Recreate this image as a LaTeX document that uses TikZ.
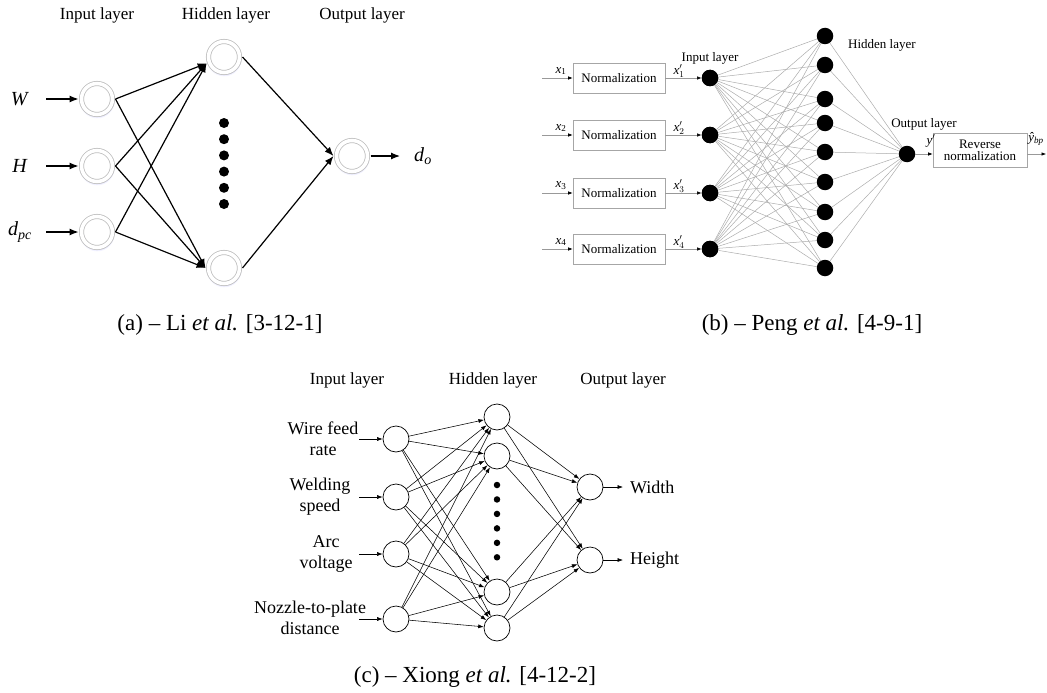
\documentclass[tikz,border=0pt]{standalone}
\usepackage{fontspec}
\setmainfont{Liberation Serif}
\usetikzlibrary{arrows.meta,shadows}
\begin{document}
\begin{tikzpicture}[x=1pt,y=-1pt,
  fs/.style={font=\fontsize{#1}{#1}\selectfont},
  lab/.style={fs=17, inner sep=0},
  capt/.style={fs=23, inner sep=0},
  aring/.style={circle, minimum size=31pt, inner sep=0, outer sep=3pt, fill=white,
    draw=gray!50, line width=0.8pt, double=white, double distance=3.5pt,
    circular drop shadow={shadow xshift=0pt, shadow yshift=-1.5pt, shadow scale=1.15, fill=blue!35, opacity=0.3}},
  adot/.style={circle, fill=black, minimum size=10pt, inner sep=0},
  arA/.style={line width=1.2pt, -{Latex[length=9pt,width=7pt]}},
  nbox/.style={draw=gray!70, line width=0.6pt, minimum width=92pt, minimum height=30pt, inner sep=0, fs=13},
  bnode/.style={circle, fill=black, minimum size=16.5pt, inner sep=0},
  bline/.style={gray!65, line width=0.5pt},
  arB/.style={gray!80, line width=0.6pt, -{Latex[length=4.5pt,width=3.5pt,black]}},
  blab/.style={fs=13, inner sep=0},
  cnode/.style={circle, draw, line width=0.7pt, minimum size=26pt, inner sep=0, fill=white},
  cdot/.style={circle, fill=black, minimum size=6.5pt, inner sep=0},
  arC/.style={line width=0.55pt, -{Latex[length=5.5pt,width=4pt]}},
  clab/.style={fs=18, inner sep=0, align=center}
]
\useasboundingbox (0,0) rectangle (1047,693);

% ================= panel (a) =================
\node[lab] (aL1) at (97,15) {Input layer};
\node[lab] (aL2) at (226,15) {Hidden layer};
\node[lab] (aL3) at (362,15) {Output layer};

\node[aring] (a1) at (97,99) {};
\node[aring] (a2) at (97,166) {};
\node[aring] (a3) at (97,232) {};
\node[aring] (ah1) at (224,57) {};
\node[aring] (ah2) at (224,268) {};
\node[aring] (ao) at (352,156) {};
\foreach \k in {0,...,5} \node[adot] (ad\k) at (224,{123+16.2*\k}) {};

\node[fs=20, inner sep=0] (aW) at (20,99) {\textit{W}};
\node[fs=20, inner sep=0] (aH) at (20,166) {\textit{H}};
\node[fs=20, inner sep=0] (aD) at (20,232) {\textit{d}\textsubscript{\textit{pc}}};
\coordinate (ai1) at (46,99);
\coordinate (ai2) at (46,166);
\coordinate (ai3) at (46,232);
\foreach \i in {1,2,3} {
  \draw[arA] (ai\i) -- (a\i);
  \draw[arA] (a\i.east) -- (ah1.200);
  \draw[arA] (a\i.east) -- (ah2.west);
}
\draw[arA] (ah1.east) -- (ao.west);
\draw[arA] (ah2.east) -- (ao.west);
\coordinate (aoe) at (400,156);
\draw[arA] (ao.east) -- (aoe);
\node[fs=20, inner sep=0] (adO) at (423,156) {\textit{d}\textsubscript{\textit{o}}};

\node[capt] (capA) at (220,325) {(a) – Li \textit{et al.} [3-12-1]};

% ================= panel (b) =================
\foreach \i/\y in {1/78,2/135,3/193,4/249} {
  \coordinate (bi\i) at (542,\y);
  \node[nbox] (bn\i) at (619,\y) {Normalization};
  \node[bnode] (bx\i) at (710,\y) {};
  \node[blab] (bxl\i) at (561,\y-7) {\textit{x}\textsubscript{\i}};
  \node[blab] (bxp\i) at (679,\y-7) {\textit{x}$'_{\i}$};
  \draw[arB] (bi\i) -- (bn\i.west);
  \draw[arB] (bn\i.east) -- (bx\i.west);
}
\foreach \j/\y in {1/36,2/65,3/99,4/123,5/152,6/182,7/212,8/240,9/268} {
  \coordinate (bh\j) at (825,\y);
}
\coordinate (bo) at (907,154);
\foreach \i in {1,...,4} \foreach \j in {1,...,9} \draw[bline] (bx\i) -- (bh\j);
\foreach \j in {1,...,9} \draw[bline] (bh\j) -- (bo);
\foreach \i in {1,...,4} \node[bnode] at (bx\i) {};
\foreach \j in {1,...,9} \node[bnode] (bH\j) at (bh\j) {};
\node[bnode] (bO) at (bo) {};

\node[blab] (bL1) at (710,58) {Input layer};
\node[blab, anchor=west] (bL2) at (848,45) {Hidden layer};
\node[blab] (bL3) at (924,124) {Output layer};

\node[draw=gray!70, line width=0.6pt, minimum width=94pt, minimum height=34pt, inner sep=0, fs=13, align=center] (rb) at (980,150) {Reverse\\[-1pt]normalization};
\node[blab] (byp) at (931,141) {\textit{y}$'$};
\draw[arB] (bO.east) -- (bO -| rb.west);
\coordinate (bend) at (1046,154);
\draw[arB] (rb.east |- bO) -- (bend);
\node[blab] (byh) at (1036,139) {\textit{ŷ}\textsubscript{\textit{bp}}};

\node[capt] (capB) at (812,325) {(b) – Peng \textit{et al.} [4-9-1]};

% ================= panel (c) =================
\node[lab] (cL1) at (347,380) {Input layer};
\node[lab] (cL2) at (493,380) {Hidden layer};
\node[lab] (cL3) at (623,380) {Output layer};

\foreach \i/\y in {1/439,2/497,3/554,4/619} {
  \node[cnode] (ci\i) at (396,\y) {};
  \coordinate (cs\i) at (359,\y);
  \draw[arC] (cs\i) -- (ci\i);
}
\foreach \j/\y in {1/417,2/456,3/592,4/628} \node[cnode] (ch\j) at (497,\y) {};
\foreach \k/\y in {1/487,2/560} \node[cnode] (co\k) at (590,\y) {};
\foreach \d in {0,...,5} \node[cdot] (cd\d) at (497,{485+14.46*\d}) {};

\foreach \i in {1,...,4} \foreach \j in {1,...,4} \draw[arC] (ci\i) -- (ch\j);
\foreach \j in {1,...,4} \foreach \k in {1,2} \draw[arC] (ch\j) -- (co\k);

\coordinate (ce1) at (623,487);
\coordinate (ce2) at (623,560);
\draw[arC] (co1) -- (ce1);
\draw[arC] (co2) -- (ce2);
\node[clab, anchor=west] (cW) at (630,487) {Width};
\node[clab, anchor=west] (cHh) at (630,560) {Height};

\node[clab] (cl1) at (323,439) {Wire feed\\[3pt]rate};
\node[clab] (cl2) at (320,497) {Welding\\[3pt]speed};
\node[clab] (cl3) at (326,554) {Arc\\[3pt]voltage};
\node[clab] (cl4) at (310,618) {Nozzle-to-plate\\[3pt]distance};

\node[capt] (capC) at (475,677) {(c) – Xiong \textit{et al.} [4-12-2]};
\end{tikzpicture}
\end{document}
